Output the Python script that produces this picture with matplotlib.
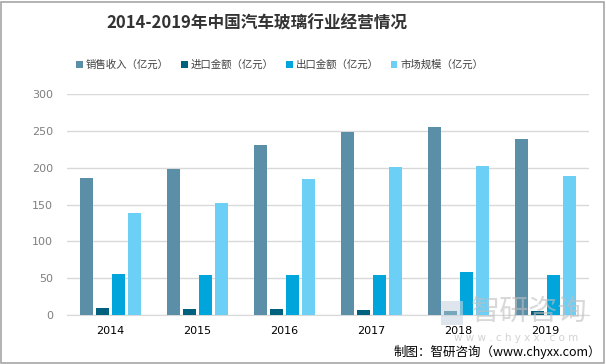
import matplotlib
matplotlib.use("Agg")
import matplotlib.pyplot as plt
import numpy as np
from matplotlib.patches import Rectangle

plt.rcParams['font.family'] = ['Noto Sans CJK SC', 'DejaVu Sans']

years = ['2014', '2015', '2016', '2017', '2018', '2019']
series_names = ['销售收入（亿元）', '进口金额（亿元）', '出口金额（亿元）', '市场规模（亿元）']
sales = [186, 198, 231, 248, 255, 239]
imports = [9.5, 8, 8, 6.8, 5.5, 5.5]
exports = [55.6, 54, 54, 54, 58, 54]
market = [138.5, 152, 184.6, 201, 202, 189]
colors = ['#5B8FA8', '#00617F', '#00A6DB', '#6BCFF6']
yticks = [0, 50, 100, 150, 200, 250, 300]

fig = plt.figure(figsize=(6.06, 3.64), dpi=100)
ax = fig.add_axes([67/606, 1-315/364, 522/606, 221/364])

x = np.arange(len(years))
w = 0.145
step = 0.184
data = [sales, imports, exports, market]
for i, (vals, c, name) in enumerate(zip(data, colors, series_names)):
    ax.bar(x + (i - 1.5) * step, vals, width=w, color=c, label=name, zorder=3)

ax.set_xlim(-0.5, len(years) - 0.5)
ax.set_ylim(0, 300)
ax.set_yticks(yticks)
ax.set_yticklabels([str(t) for t in yticks], color='#7F7F7F', fontsize=8, family='DejaVu Sans')
ax.set_xticks(x)
ax.set_xticklabels(years, fontsize=8, color='#000000', family='DejaVu Sans')
ax.tick_params(axis='both', length=0)
ax.tick_params(axis='x', pad=8)
ax.tick_params(axis='y', pad=10)
ax.grid(axis='y', color='#D9D9D9', linewidth=1, zorder=0)
for s in ['top', 'right', 'left']:
    ax.spines[s].set_visible(False)
ax.spines['bottom'].set_color('#D9D9D9')

fig.text(257/606, 1-24/364, '2014-2019年中国汽车玻璃行业经营情况', ha='center', va='center',
         fontsize=12, fontweight='bold', color='#333333')

leg = fig.legend(loc='center', bbox_to_anchor=(280/606, 1-65/364), ncol=4, frameon=False,
                 fontsize=7.5, handlelength=0.6, handleheight=0.6, handletextpad=0.3,
                 columnspacing=1.2, borderaxespad=0)
for t in leg.get_texts():
    t.set_color('#404040')

# watermark
fig.text(529/606, 1-312/364, '智研咨询', ha='center', va='center', fontsize=21,
         color='#BFBFBF', alpha=0.6)
fig.text(516/606, 1-338/364, 'w w w . c h y x x . c o m', ha='center', va='center', fontsize=7.5,
         color='#BFBFBF', alpha=0.7, family='DejaVu Sans')
fig.add_artist(Rectangle((441/606, 1-325/364), 22/606, 24/364, transform=fig.transFigure,
                         facecolor='#C8D4E0', edgecolor='none', alpha=0.6))

fig.text(601/606, 1-352/364, '制图：智研咨询（www.chyxx.com）', ha='right', va='center',
         fontsize=9, color='#000000')

fig.add_artist(Rectangle((0.5/606, 1.5/364), 603/606, 361/364, transform=fig.transFigure,
                         facecolor='none', edgecolor='#A6A6A6', linewidth=1.2))

fig.savefig('out.png', dpi=100)
